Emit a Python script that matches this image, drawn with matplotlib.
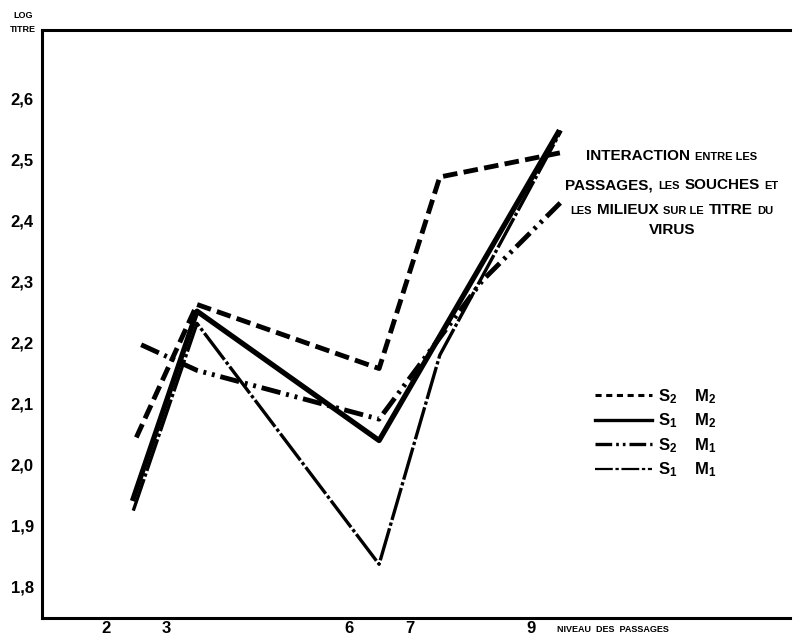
import matplotlib
matplotlib.use("Agg")
from matplotlib import pyplot as plt
from matplotlib.lines import Line2D

plt.rcParams['font.family'] = ['Liberation Sans', 'DejaVu Sans']
plt.rcParams['font.weight'] = 'bold'
plt.rcParams['mathtext.fontset'] = 'custom'
plt.rcParams['mathtext.rm'] = 'Liberation Sans:bold'
plt.rcParams['mathtext.bf'] = 'Liberation Sans:bold'

# passage level (midpoints of the passage groups) and log titre
s2m2_x = [2.5, 3.5, 6.5, 7.5, 9.5]
s2m2_y = [2.045, 2.263, 2.158, 2.472, 2.512]

s1m2_x = [2.45, 3.5, 6.5, 9.45]
s1m2_y = [1.945, 2.252, 2.040, 2.545]

s2m1_x = [2.58, 3.5, 6.5, 8.2, 9.5]
s2m1_y = [2.197, 2.155, 2.075, 2.302, 2.431]

s1m1_x = [2.45, 3.5, 6.5, 7.5, 9.5]
s1m1_y = [1.925, 2.232, 1.837, 2.180, 2.548]

x_ticks = [2, 3, 6, 7, 9]
y_ticks = [1.8, 1.9, 2.0, 2.1, 2.2, 2.3, 2.4, 2.5, 2.6]
y_labels = [f"{v:.1f}".replace('.', ',') for v in y_ticks]

labels = [r'$\mathbf{S_2}$    $\mathbf{M_2}$',
          r'$\mathbf{S_1}$    $\mathbf{M_2}$',
          r'$\mathbf{S_2}$    $\mathbf{M_1}$',
          r'$\mathbf{S_1}$    $\mathbf{M_1}$']

fig = plt.figure(figsize=(7.94, 6.40), dpi=100)
ax = fig.add_axes([42/794, 22/640, 748/794, 588/640])

st_s2m2 = dict(color='black', lw=3.5, ls=(0, (3, 1.3)))
st_s1m2 = dict(color='black', lw=3.8, ls='-')
st_s2m1 = dict(color='black', lw=3.5, ls=(0, (4, 1.2, 0.6, 1.2, 0.6, 1.2)))
st_s1m1 = dict(color='black', lw=2.4, ls=(0, (10, 0.8, 1, 0.8)))

ax.plot(s2m2_x, s2m2_y, **st_s2m2)
ax.plot(s1m2_x, s1m2_y, **st_s1m2)
ax.plot(s2m1_x, s2m1_y, **st_s2m1)
ax.plot(s1m1_x, s1m1_y, **st_s1m1)

ax.set_xlim(0.946, 13.27)
ax.set_ylim(1.749, 2.713)
ax.set_xticks(x_ticks)
ax.set_xticklabels([str(v) for v in x_ticks], fontsize=12, fontweight='bold')
ax.set_yticks(y_ticks)
ax.set_yticklabels(y_labels, fontsize=12, fontweight='bold')
ax.tick_params(axis='y', length=0, pad=6)
ax.tick_params(axis='x', length=0, pad=2)
ax.spines['right'].set_visible(False)
for s in ['top', 'left', 'bottom']:
    ax.spines[s].set_linewidth(2.2)

handles = [Line2D([], [], color='black', lw=2.2, ls=(0, (2, 1.5))),
           Line2D([], [], color='black', lw=2.4, ls='-'),
           Line2D([], [], color='black', lw=2.4, ls=(0, (5, 1.2, 0.8, 1.2, 0.8, 1.2))),
           Line2D([], [], color='black', lw=1.6, ls=(0, (8, 1.2, 1.5, 1.2)))]
leg = ax.legend(handles, labels, loc='upper left', frameon=False,
                bbox_to_anchor=(580/794, 1 - 372/640), bbox_transform=fig.transFigure,
                fontsize=12, handlelength=3.4, handletextpad=0.4, labelspacing=0.35)

fig.text(23/794, 1 - 16/640, 'LOG', fontsize=6.5, ha='center', va='center')
fig.text(23/794, 1 - 29/640, 'TITRE', fontsize=6.5, ha='center', va='center')
fig.text(557/794, 1 - 630/640, 'NIVEAU  DES  PASSAGES', fontsize=6.5, ha='left', va='center')

# title block with big and small capitals
big, small = 11, 8
title_lines = [
    ([('INTERACTION', big), ('ENTRE LES', small)], 160),
    ([('PASSAGES,', big), ('LES', small), ('SOUCHES', big), ('ET', small)], 189),
    ([('LES', small), ('MILIEUX', big), ('SUR LE', small), ('TITRE', big), ('DU', small)], 214),
    ([('VIRUS', big)], 234),
]
renderer = fig.canvas.get_renderer()
gap = 5
for segs, ypix in title_lines:
    texts = [fig.text(0, 1 - ypix/640, s, fontsize=sz, fontweight='bold', va='baseline')
             for s, sz in segs]
    widths = [t.get_window_extent(renderer).width for t in texts]
    total = sum(widths) + gap * (len(texts) - 1)
    x = 672 - total / 2
    for t, w in zip(texts, widths):
        t.set_x(x / 794)
        x += w + gap

fig.savefig('out.png', dpi=100)
